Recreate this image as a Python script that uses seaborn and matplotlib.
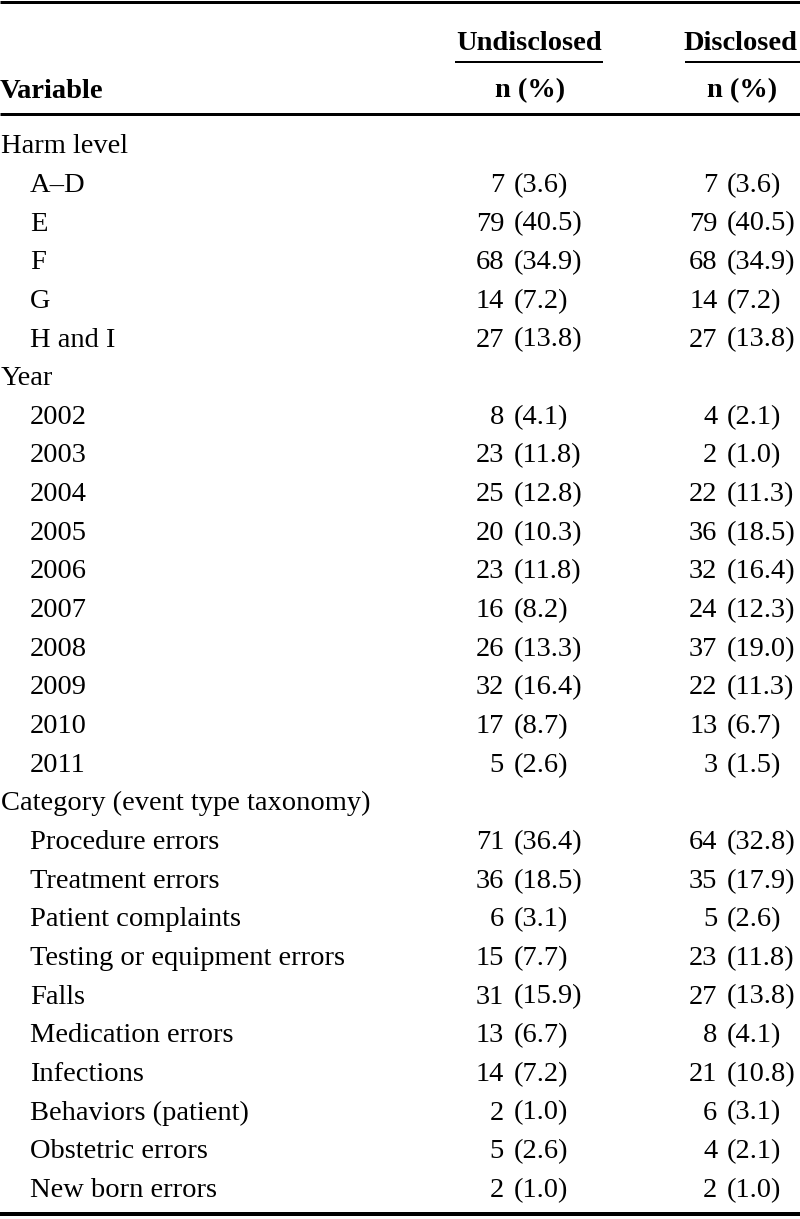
import seaborn as sns
import matplotlib.pyplot as plt
import pandas as pd

# table contents
harm_levels = ["A–D", "E", "F", "G", "H and I"]
harm_undisc_n = [7, 79, 68, 14, 27]
harm_undisc_pct = [3.6, 40.5, 34.9, 7.2, 13.8]
harm_disc_n = [7, 79, 68, 14, 27]
harm_disc_pct = [3.6, 40.5, 34.9, 7.2, 13.8]

years = ["2002", "2003", "2004", "2005", "2006", "2007", "2008", "2009", "2010", "2011"]
year_undisc_n = [8, 23, 25, 20, 23, 16, 26, 32, 17, 5]
year_undisc_pct = [4.1, 11.8, 12.8, 10.3, 11.8, 8.2, 13.3, 16.4, 8.7, 2.6]
year_disc_n = [4, 2, 22, 36, 32, 24, 37, 22, 13, 3]
year_disc_pct = [2.1, 1.0, 11.3, 18.5, 16.4, 12.3, 19.0, 11.3, 6.7, 1.5]

categories = ["Procedure errors", "Treatment errors", "Patient complaints",
              "Testing or equipment errors", "Falls", "Medication errors",
              "Infections", "Behaviors (patient)", "Obstetric errors", "New born errors"]
cat_undisc_n = [71, 36, 6, 15, 31, 13, 14, 2, 5, 2]
cat_undisc_pct = [36.4, 18.5, 3.1, 7.7, 15.9, 6.7, 7.2, 1.0, 2.6, 1.0]
cat_disc_n = [64, 35, 5, 23, 27, 8, 21, 6, 4, 2]
cat_disc_pct = [32.8, 17.9, 2.6, 11.8, 13.8, 4.1, 10.8, 3.1, 2.1, 1.0]

sections = [
    ("Harm level", harm_levels, harm_undisc_n, harm_undisc_pct, harm_disc_n, harm_disc_pct),
    ("Year", years, year_undisc_n, year_undisc_pct, year_disc_n, year_disc_pct),
    ("Category (event type taxonomy)", categories, cat_undisc_n, cat_undisc_pct, cat_disc_n, cat_disc_pct),
]

rows = []
for title, labels, un, up, dn, dp in sections:
    rows.append(dict(label=title, indent=False, un=None, up=None, dn=None, dp=None))
    for i, lab in enumerate(labels):
        rows.append(dict(label=lab, indent=True, un=un[i], up=up[i], dn=dn[i], dp=dp[i]))
df = pd.DataFrame(rows)

sns.set_theme(style="white")
plt.rcParams['font.family'] = ['Liberation Serif', 'DejaVu Serif']
plt.rcParams['text.color'] = 'black'

W, H = 800, 1219
fig = plt.figure(figsize=(W / 100, H / 100), dpi=100)
ax = fig.add_axes([0, 0, 1, 1])
ax.set_xlim(0, W)
ax.set_ylim(H, 0)
ax.axis('off')

fs = 20.5
px = 72 / 100  # points per pixel

# rules
ax.hlines([1.5, 113.5], 0, W, color='black', lw=3 * px)
ax.hlines(1214, 0, W, color='black', lw=4 * px)
ax.hlines(61.7, 455, 603, color='black', lw=2 * px)
ax.hlines(61.7, 685, 800, color='black', lw=2 * px)

# header
ax.text(529.5, 49.5, "Undisclosed", ha='center', va='baseline', fontsize=fs, fontweight='bold')
ax.text(741, 49.5, "Disclosed", ha='center', va='baseline', fontsize=fs, fontweight='bold')
ax.text(0, 97.5, "Variable", ha='left', va='baseline', fontsize=fs, fontweight='bold')
ax.text(530.5, 97.5, "n (%)", ha='center', va='baseline', fontsize=fs, fontweight='bold')
ax.text(742, 97.5, "n (%)", ha='center', va='baseline', fontsize=fs, fontweight='bold')

# body
y0, step = 153.3, 38.65
for i, r in df.iterrows():
    y = y0 + i * step
    ax.text(30 if r['indent'] else 1, y, r['label'], ha='left', va='baseline', fontsize=fs)
    if r['indent']:
        ax.text(504, y, f"{int(r['un'])}", ha='right', va='baseline', fontsize=fs)
        ax.text(513.5, y, f"({r['up']:.1f})", ha='left', va='baseline', fontsize=fs)
        ax.text(717.5, y, f"{int(r['dn'])}", ha='right', va='baseline', fontsize=fs)
        ax.text(726.5, y, f"({r['dp']:.1f})", ha='left', va='baseline', fontsize=fs)

fig.savefig("out.png", dpi=100, facecolor='white')
